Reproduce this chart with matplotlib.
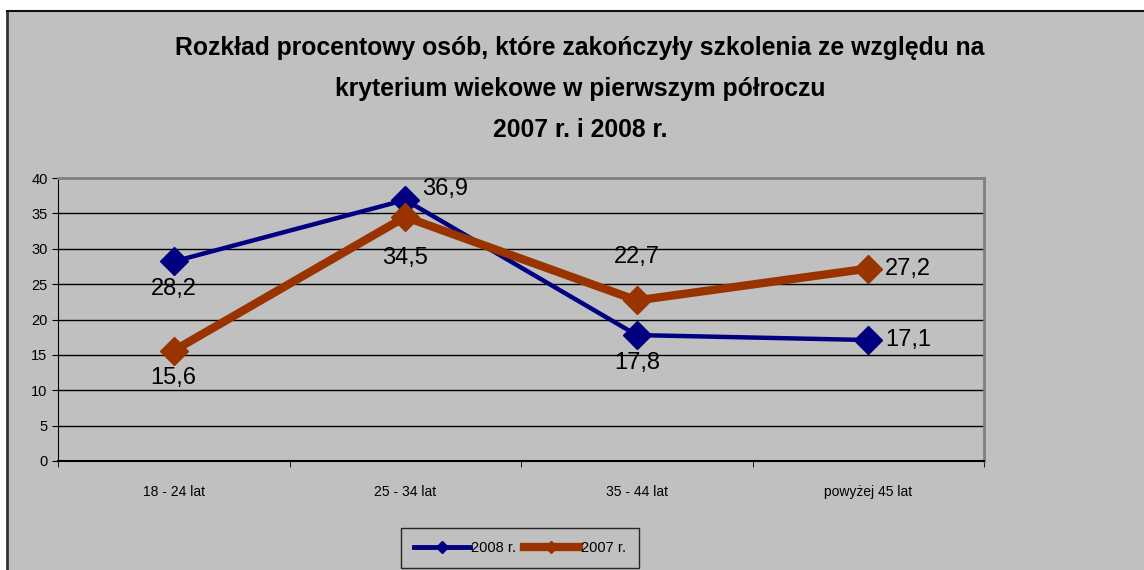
import matplotlib.pyplot as plt
import numpy as np
from matplotlib.lines import Line2D
from matplotlib.patches import Rectangle

plt.rcParams['font.family'] = ['Liberation Sans', 'DejaVu Sans']

kategorie = ["18 - 24 lat", "25 - 34 lat", "35 - 44 lat", "powyżej 45 lat"]
r2008 = [28.2, 36.9, 17.8, 17.1]
r2007 = [15.6, 34.5, 22.7, 27.2]
etykiety_2008 = ["28,2", "36,9", "17,8", "17,1"]
etykiety_2007 = ["15,6", "34,5", "22,7", "27,2"]

szary = "#c0c0c0"
niebieski = "#000080"
brazowy = "#993300"

fig = plt.figure(figsize=(11.44, 5.70), dpi=100)
fig.patch.set_facecolor("white")
# szare tlo wykresu z ramka
fig.patches.append(Rectangle((7/1144, 0), 1 - 7/1144, 1 - 11/570, transform=fig.transFigure,
                             facecolor=szary, edgecolor="none", zorder=-10))
fig.lines.append(Line2D([7/1144, 7/1144], [0, 1 - 11/570], transform=fig.transFigure, color="#333333", lw=2, zorder=-5))
fig.lines.append(Line2D([7/1144, 1], [1 - 11/570, 1 - 11/570], transform=fig.transFigure, color="#111111", lw=1.5, zorder=-5))

ax = fig.add_axes([58/1144, 1 - 461/570, 926/1144, 283/570])
ax.set_facecolor(szary)
x = np.arange(len(kategorie))

for y in range(5, 40, 5):
    ax.axhline(y, color="black", lw=1, zorder=1)

ax.plot(x, r2008, color=niebieski, lw=3.2, marker="D", markersize=14, zorder=3, label="2008 r.")
ax.plot(x, r2007, color=brazowy, lw=6, marker="D", markersize=14, zorder=3, label="2007 r.")

# przesuniecia etykiet (w punktach) i wyrownanie
off_2008 = [(0, -12, "center", "top"), (12, 8, "left", "center"),
            (0, -12, "center", "top"), (12, 0, "left", "center")]
off_2007 = [(0, -12, "center", "top"), (0, -22, "center", "top"),
            (0, 23, "center", "bottom"), (12, 0, "left", "center")]
for i in range(len(x)):
    for val, lab, (dx, dy, ha, va) in [(r2008[i], etykiety_2008[i], off_2008[i]),
                                       (r2007[i], etykiety_2007[i], off_2007[i])]:
        ax.annotate(lab, (i, val), xytext=(dx, dy), textcoords="offset points",
                    ha=ha, va=va, fontsize=17, zorder=4)

ax.set_xlim(-0.5, 3.5)
ax.set_ylim(0, 40)
ax.set_yticks(range(0, 41, 5))
ax.set_xticks(x)
ax.set_xticklabels(kategorie, fontsize=10)
ax.set_xticks(np.arange(-0.5, 3.6, 1), minor=True)
ax.tick_params(axis="x", which="major", length=0, pad=17)
ax.tick_params(axis="x", which="minor", length=4, direction="out", color="black")
ax.tick_params(axis="y", length=4, labelsize=10.5, color="black")
ax.spines["top"].set_color("#808080")
ax.spines["right"].set_color("#808080")
ax.spines["top"].set_linewidth(2)
ax.spines["right"].set_linewidth(2)
ax.spines["left"].set_color("black")
ax.spines["bottom"].set_color("black")
ax.spines["bottom"].set_linewidth(1.5)

tx = 580/1144
fig.text(tx, 1 - 48/570, "Rozkład procentowy osób, które zakończyły szkolenia ze względu na",
         ha="center", va="center", fontsize=17.8, fontweight="bold")
fig.text(tx, 1 - 89/570, "kryterium wiekowe w pierwszym półroczu",
         ha="center", va="center", fontsize=17.8, fontweight="bold")
fig.text(tx, 1 - 130/570, "2007 r. i 2008 r.",
         ha="center", va="center", fontsize=17.8, fontweight="bold")

h = [Line2D([], [], color=niebieski, lw=3.5, marker="D", markersize=6),
     Line2D([], [], color=brazowy, lw=6, marker="D", markersize=6)]
leg = fig.legend(h, ["2008 r.", "2007 r."], loc="lower center", bbox_to_anchor=(520/1144, 2/570),
                 ncol=2, frameon=True, fontsize=10.5, handlelength=3.8, handletextpad=0.1,
                 columnspacing=0.5, fancybox=False, borderpad=0.9, borderaxespad=0)
leg.get_frame().set_edgecolor("black")
leg.get_frame().set_facecolor(szary)
leg.get_frame().set_linewidth(1)

fig.savefig("out.png", dpi=100, facecolor=fig.get_facecolor())
